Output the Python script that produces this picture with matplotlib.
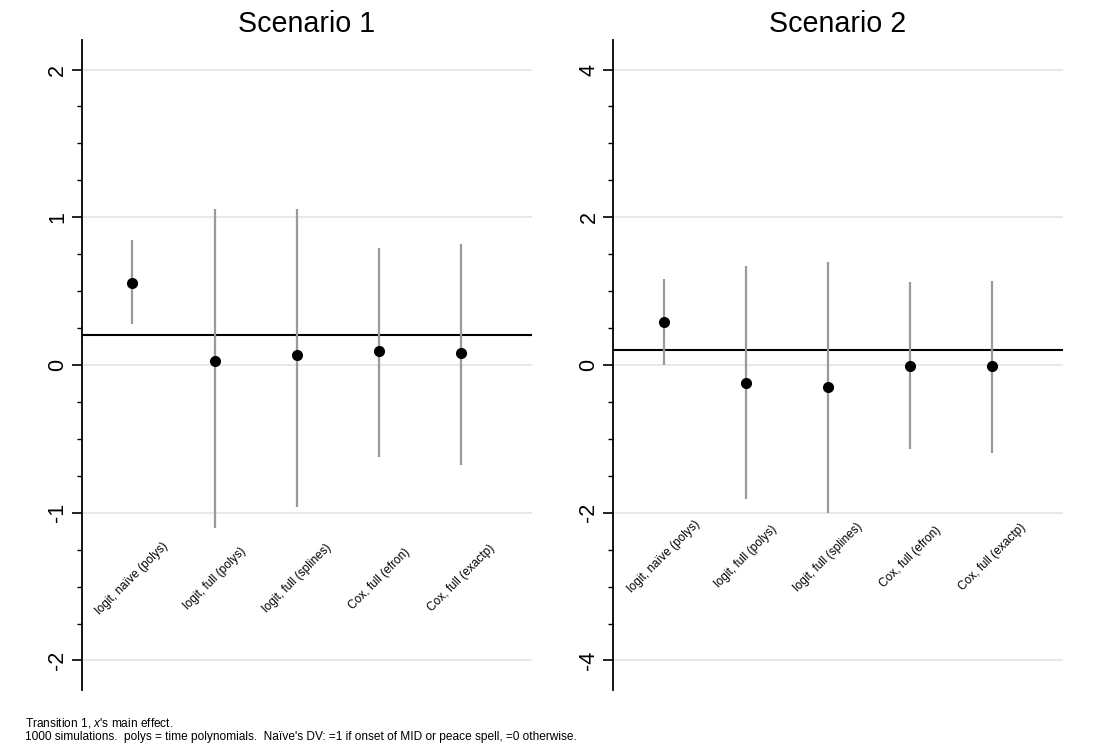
import matplotlib
matplotlib.use("Agg")
import matplotlib.pyplot as plt
from matplotlib.ticker import MultipleLocator

plt.rcParams["font.family"] = ["Liberation Sans", "DejaVu Sans"]
plt.rcParams["mathtext.fontset"] = "custom"
plt.rcParams["mathtext.it"] = "Liberation Sans:italic"
plt.rcParams["mathtext.rm"] = "Liberation Sans"
plt.rcParams["axes.unicode_minus"] = False

models = ["logit, naïve (polys)", "logit, full (polys)", "logit, full (splines)",
          "Cox, full (efron)", "Cox, full (exactp)"]

s1_est = [0.556, 0.025, 0.065, 0.097, 0.079]
s1_lo = [0.279, -1.10, -0.96, -0.62, -0.68]
s1_hi = [0.845, 1.059, 1.059, 0.795, 0.818]
s1_true = 0.2

s2_est = [0.577, -0.243, -0.297, -0.014, -0.014]
s2_lo = [0.0, -1.81, -2.01, -1.135, -1.19]
s2_hi = [1.158, 1.34, 1.40, 1.117, 1.135]
s2_true = 0.2

panels = [
    dict(title="Scenario 1", est=s1_est, lo=s1_lo, hi=s1_hi, true=s1_true,
         ylim=2.2, major=1, minor=0.25, label_y=-1.446,
         rect=[82 / 1095, 60 / 750, 450 / 1095, 650 / 750]),
    dict(title="Scenario 2", est=s2_est, lo=s2_lo, hi=s2_hi, true=s2_true,
         ylim=4.4, major=2, minor=0.5, label_y=-2.6,
         rect=[613.3 / 1095, 60 / 750, 449.4 / 1095, 650 / 750]),
]

fig = plt.figure(figsize=(10.95, 7.5), dpi=100)
xpos = list(range(1, len(models) + 1))

for p in panels:
    ax = fig.add_axes(p["rect"])
    ax.set_xlim(0.387, 5.86)
    ax.set_ylim(-p["ylim"], p["ylim"])
    for side in ("top", "right", "bottom"):
        ax.spines[side].set_visible(False)
    ax.spines["left"].set_linewidth(1.3)
    ax.set_xticks([])
    ax.yaxis.set_major_locator(MultipleLocator(p["major"]))
    ax.yaxis.set_minor_locator(MultipleLocator(p["minor"]))
    ax.tick_params(axis="y", which="major", length=7, width=1.2, labelsize=15.5,
                   labelrotation=90, pad=3)
    ax.tick_params(axis="y", which="minor", length=3.5, width=1.0)
    for t in ax.get_yticklabels():
        t.set_va("center")
    ax.grid(axis="y", which="major", color="#e6e6e6", linewidth=1.3)
    ax.set_axisbelow(True)

    ax.axhline(p["true"], color="black", linewidth=1.5, zorder=2)
    ax.vlines(xpos, p["lo"], p["hi"], color="#9a9a9a", linewidth=1.6, zorder=3)
    ax.plot(xpos, p["est"], "o", color="black", markersize=7, zorder=4)

    for x, name in zip(xpos, models):
        ax.text(x, p["label_y"], name, rotation=45, ha="center", va="center",
                fontsize=8.6, color="black")

    ax.set_title(p["title"], fontsize=20.6, pad=6)

fig.text(25 / 1095, 1 - 723 / 750, "Transition 1, $\\it{x}$'s main effect.",
         fontsize=8.55, va="center", ha="left")
fig.text(25 / 1095, 1 - 737 / 750,
         "1000 simulations.  polys = time polynomials.  Naïve's DV: =1 if onset of MID or peace spell, =0 otherwise.",
         fontsize=8.55, va="center", ha="left")

fig.savefig("out.png", dpi=100, facecolor="white")
